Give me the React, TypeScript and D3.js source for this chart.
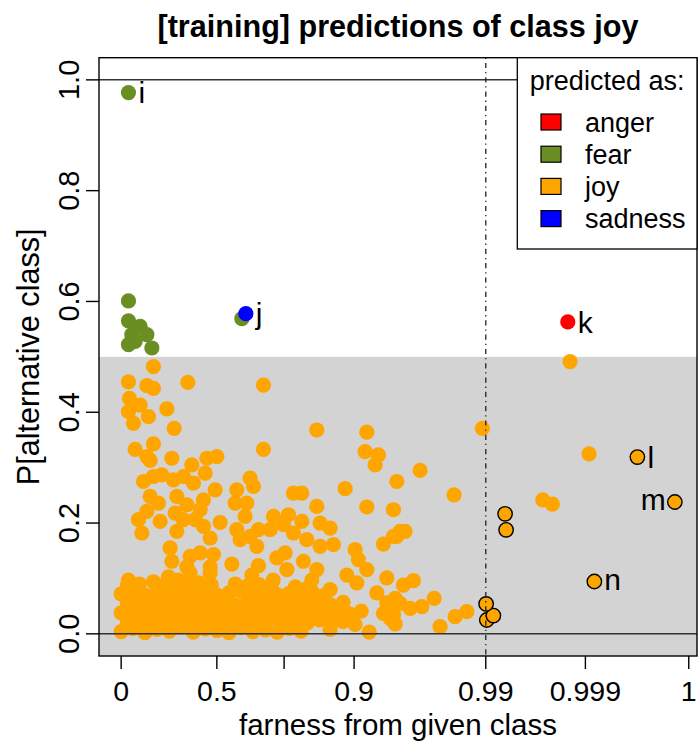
import React from 'react';
import * as d3 from 'd3';

const W = 698;
const H = 741;
const FONT = "'Liberation Sans', Arial, Helvetica, sans-serif";

// x axis is drawn on a stretched "farness" scale (0..1 on the plot's own units)
const xTickPos = [0, 0.1686, 0.2871, 0.4104, 0.6424, 0.8179, 1];
const xTickLabels = ['0', '0.5', '', '0.9', '0.99', '0.999', '1'];
const yTicks = [0, 0.2, 0.4, 0.6, 0.8, 1.0];
const yTickLabels = ['0.0', '0.2', '0.4', '0.6', '0.8', '1.0'];
const thresholdX = 0.6424; // the 0.99 reference line
const thresholdY = 0.5;

const classes = ['anger', 'fear', 'joy', 'sadness'];
const classColors = ['#FF0000', '#6B8E23', '#FFA500', '#0000FF'];

// [farness (plot units), P[alternative class]]
const joyScatter: [number, number][] = [
  [0.0569, 0.4825], [0.0129, 0.455], [0.0453, 0.448], [0.0569, 0.443], [0.1175, 0.454], [0.2507, 0.449],
  [0.0146, 0.425], [0.0129, 0.401], [0.0217, 0.413], [0.0335, 0.413], [0.0481, 0.392], [0.0217, 0.38],
  [0.0805, 0.406], [0.0934, 0.371], [0.3447, 0.368], [0.4328, 0.364], [0.2507, 0.333], [0.0247, 0.333],
  [0.0569, 0.343], [0.0453, 0.32], [0.0511, 0.313], [0.4298, 0.329], [0.4532, 0.323], [0.4474, 0.305],
  [0.0893, 0.317], [0.1245, 0.305], [0.151, 0.317], [0.1686, 0.32], [0.148, 0.29], [0.4857, 0.275],
  [0.0393, 0.275], [0.0569, 0.284], [0.0717, 0.287], [0.0921, 0.278], [0.1097, 0.284], [0.1274, 0.272],
  [0.1656, 0.26], [0.2038, 0.26], [0.2272, 0.281], [0.2331, 0.266], [0.3035, 0.254], [0.3183, 0.254],
  [0.3946, 0.262], [0.0511, 0.248], [0.0657, 0.236], [0.0981, 0.248], [0.1157, 0.233], [0.145, 0.242],
  [0.1392, 0.224], [0.2008, 0.236], [0.2214, 0.236], [0.3447, 0.23], [0.4328, 0.229], [0.4797, 0.224],
  [0.0453, 0.221], [0.0305, 0.206], [0.0365, 0.182], [0.0687, 0.203], [0.0951, 0.218], [0.1097, 0.206],
  [0.0981, 0.185], [0.1304, 0.206], [0.145, 0.194], [0.1568, 0.173], [0.1744, 0.201], [0.2184, 0.212],
  [0.2038, 0.188], [0.2096, 0.17], [0.2272, 0.176], [0.239, 0.158], [0.2683, 0.212], [0.2947, 0.215],
  [0.3183, 0.203], [0.2625, 0.188], [0.2419, 0.188], [0.2859, 0.197], [0.3505, 0.2], [0.3682, 0.191],
  [0.3035, 0.182], [0.3271, 0.17], [0.3505, 0.158], [0.374, 0.161], [0.462, 0.162], [0.4122, 0.152],
  [0.418, 0.134], [0.4328, 0.116], [0.4797, 0.176], [0.0863, 0.155], [0.0893, 0.131], [0.1215, 0.14],
  [0.1392, 0.146], [0.1626, 0.143], [0.1157, 0.121], [0.1568, 0.121], [0.195, 0.126], [0.2419, 0.123],
  [0.2743, 0.137], [0.2889, 0.146], [0.3211, 0.131], [0.3447, 0.116], [0.468, 0.101], [0.3976, 0.106],
  [0.0129, 0.097], [0.0569, 0.094], [0.0833, 0.103], [0.1009, 0.097],
  [0.7909, 0.4915], [0.6364, 0.371], [0.8244, 0.325], [0.7428, 0.242], [0.7597, 0.234], [0.5267, 0.295],
  [0.5866, 0.251], [0.4915, 0.185], [0.5003, 0.185], [0.4857, 0.176], [0.4973, 0.088], [0.5149, 0.096],
  [0.4827, 0.064], [0.4915, 0.055], [0.5091, 0.046], [0.5297, 0.049], [0.5514, 0.064], [0.4797, 0.034],
  [0.4738, 0.028], [0.4827, 0.018], [0.5619, 0.013], [0.5884, 0.031], [0.609, 0.04],
  [0.1215, 0.11], [0.1568, 0.11], [0.2302, 0.106], [0.2678, 0.097], [0.2919, 0.116], [0.3359, 0.097],
  [0.3682, 0.08], [0.4152, 0.092], [0.4504, 0.074], [0.468, 0.056], [0.4791, 0.038], [0.462, 0.037],
];

const joyBand: [number, number][] = [
  [0, 0.004], [0.021, 0.01], [0.042, 0.002], [0.063, 0.008], [0.085, 0.005], [0.106, 0.012], [0.127, 0.003],
  [0.148, 0.009], [0.169, 0.006], [0.19, 0.002], [0.211, 0.011], [0.232, 0.004], [0.254, 0.007], [0.275, 0.003],
  [0.296, 0.01], [0.317, 0.005], [0.368, 0.008], [0.437, 0.003],
  [0.011, 0.02], [0.032, 0.025], [0.053, 0.018], [0.074, 0.022], [0.095, 0.027], [0.116, 0.019], [0.137, 0.024],
  [0.159, 0.02], [0.18, 0.026], [0.201, 0.017], [0.222, 0.023], [0.243, 0.021], [0.264, 0.028], [0.285, 0.018],
  [0.307, 0.024], [0.328, 0.02], [0.349, 0.025], [0.37, 0.019], [0.391, 0.022], [0.412, 0.017],
  [0, 0.038], [0.021, 0.042], [0.042, 0.035], [0.063, 0.04], [0.085, 0.044], [0.106, 0.036], [0.127, 0.039],
  [0.148, 0.043], [0.169, 0.037], [0.19, 0.041], [0.211, 0.036], [0.232, 0.04], [0.254, 0.045], [0.275, 0.038],
  [0.296, 0.042], [0.317, 0.035], [0.338, 0.04], [0.359, 0.037], [0.38, 0.043], [0.402, 0.036], [0.423, 0.041],
  [0.011, 0.056], [0.032, 0.052], [0.053, 0.058], [0.074, 0.055], [0.095, 0.06], [0.116, 0.053], [0.137, 0.057],
  [0.159, 0.055], [0.18, 0.059], [0.201, 0.052], [0.222, 0.056], [0.243, 0.058], [0.264, 0.054], [0.285, 0.057],
  [0.307, 0.053], [0.328, 0.059], [0.349, 0.055], [0.37, 0.052], [0.391, 0.057],
  [0, 0.072], [0.021, 0.075], [0.042, 0.07], [0.063, 0.074], [0.085, 0.078], [0.106, 0.071], [0.127, 0.073],
  [0.148, 0.076], [0.169, 0.07], [0.19, 0.074], [0.211, 0.077], [0.232, 0.072], [0.254, 0.075], [0.275, 0.071],
  [0.296, 0.073], [0.317, 0.069], [0.338, 0.074], [0.359, 0.07],
  [0.011, 0.088], [0.032, 0.09], [0.074, 0.087], [0.095, 0.091], [0.116, 0.086], [0.137, 0.092], [0.159, 0.088],
  [0.201, 0.09], [0.222, 0.086], [0.243, 0.089], [0.264, 0.087], [0.307, 0.085], [0.328, 0.082],
];

const fearPoints: [number, number][] = [
  [0.0129, 0.977], [0.0129, 0.601], [0.0129, 0.565], [0.0335, 0.555], [0.0188, 0.54], [0.0453, 0.54],
  [0.0129, 0.522], [0.0247, 0.528], [0.0541, 0.516], [0.2126, 0.569],
];
const sadnessPoints: [number, number][] = [[0.2197, 0.578]];
const angerPoints: [number, number][] = [[0.7869, 0.563]];

// joy points drawn with an outline (highlighted)
const markedPoints: [number, number][] = [
  [0.6764, 0.2166], [0.6782, 0.1877], [0.6442, 0.025], [0.6558, 0.033], [0.643, 0.054],
  [0.9095, 0.319], [0.9755, 0.238], [0.8337, 0.0945],
];

const labelText = ['i', 'j', 'k', 'l', 'm', 'n'];
const labelZ = [0.0129, 0.2197, 0.7869, 0.9095, 0.9755, 0.8337];
const labelP = [0.977, 0.578, 0.563, 0.319, 0.238, 0.0945];
const labelSide = ['right', 'right', 'right', 'right', 'left', 'right'];

export default function App() {
  const left = 99, right = 697, top = 57.7, bottom = 656;
  const all = [...joyScatter, ...joyBand, ...fearPoints, ...sadnessPoints, ...angerPoints, ...markedPoints];
  const [zmin, zmax] = d3.extent(all, (d) => d[0]) as [number, number];
  const pad = 0.04 * (zmax - zmin);
  const x = d3.scaleLinear().domain([zmin - pad, zmax + pad]).range([left, right]);
  const y = d3.scaleLinear().domain([-0.04, 1.04]).range([bottom, top]);
  const r = 7.6;
  const colorOf = (c: string) => classColors[classes.indexOf(c)];

  const dot = (pts: [number, number][], cls: string, key: string, outlined = false) =>
    pts.map((d, i) => (
      <circle key={key + i} cx={x(d[0])} cy={y(d[1])} r={outlined ? 7.2 : r}
        fill={colorOf(cls)} stroke={outlined ? '#000' : 'none'} strokeWidth={outlined ? 1.4 : 0} />
    ));

  const legendX = 517.3, legendY = top, legendW = right - 517.3, legendH = 191.3;
  const ascenders = 'bdfhijklt';

  return (
    <svg width={W} height={H} style={{ position: 'absolute', left: 0, top: 0, background: '#fff' }}
      fontFamily={FONT}>
      <rect x={0} y={0} width={W} height={H} fill="#fff" />
      <rect x={left} y={y(thresholdY)} width={right - left} height={bottom - y(thresholdY)} fill="#D3D3D3" />
      {dot(joyBand, 'joy', 'jb')}
      {dot(joyScatter, 'joy', 'js')}
      {dot(fearPoints, 'fear', 'f')}
      {dot(sadnessPoints, 'sadness', 's')}
      {dot(angerPoints, 'anger', 'a')}
      {dot(markedPoints, 'joy', 'm', true)}
      {labelText.map((t, i) => {
        const px = x(labelZ[i]);
        const py = y(labelP[i]);
        const isLeft = labelSide[i] === 'left';
        const hasAsc = t.split('').some((c) => ascenders.includes(c));
        return (
          <text key={'l' + i} x={isLeft ? px - 9 : px + 10} y={py + (hasAsc ? 10.8 : 8.2)}
            textAnchor={isLeft ? 'end' : 'start'} fontSize={30} fill="#000">{t}</text>
        );
      })}
      {[0, 1].map((v) => (
        <line key={'h' + v} x1={left} x2={right} y1={y(v)} y2={y(v)} stroke="#333" strokeWidth={1.5} />
      ))}
      <line x1={x(thresholdX)} x2={x(thresholdX)} y1={top} y2={bottom} stroke="#222" strokeWidth={1.3}
        strokeDasharray="1.3,3.9,5.2,3.9" />
      <rect x={left} y={top} width={right - left} height={bottom - top} fill="none" stroke="#000" strokeWidth={1.4} />
      {/* x axis */}
      {xTickPos.map((t, i) => (
        <g key={'xt' + i}>
          <line x1={x(t)} x2={x(t)} y1={bottom} y2={bottom + 13} stroke="#000" strokeWidth={1.4} />
          <text x={x(t)} y={701} textAnchor="middle" fontSize={28.5}>{xTickLabels[i]}</text>
        </g>
      ))}
      <text x={(left + right) / 2} y={734.5} textAnchor="middle" fontSize={29.5}>farness from given class</text>
      {/* y axis */}
      {yTicks.map((t, i) => (
        <g key={'yt' + i}>
          <line x1={left - 13} x2={left} y1={y(t)} y2={y(t)} stroke="#000" strokeWidth={1.4} />
          <text transform={`translate(79,${y(t)}) rotate(-90)`} textAnchor="middle" fontSize={29}>{yTickLabels[i]}</text>
        </g>
      ))}
      <text transform={`translate(39,${(top + bottom) / 2}) rotate(-90)`} textAnchor="middle" fontSize={30.6}>P[alternative class]</text>
      {/* title */}
      <text x={(left + right) / 2} y={37} textAnchor="middle" fontSize={30.6} fontWeight="bold">[training] predictions of class joy</text>
      {/* legend */}
      <rect x={legendX} y={legendY} width={legendW} height={legendH} fill="#fff" stroke="#000" strokeWidth={1.3} />
      <text x={legendX + legendW / 2} y={90} textAnchor="middle" fontSize={27}>predicted as:</text>
      {classes.map((c, i) => (
        <g key={'lg' + c}>
          <rect x={541} y={114 + i * 32.2} width={20} height={16} fill={classColors[i]} stroke="#000" strokeWidth={1.2} />
          <text x={585} y={131.5 + i * 32.2} fontSize={27}>{c}</text>
        </g>
      ))}
    </svg>
  );
}
